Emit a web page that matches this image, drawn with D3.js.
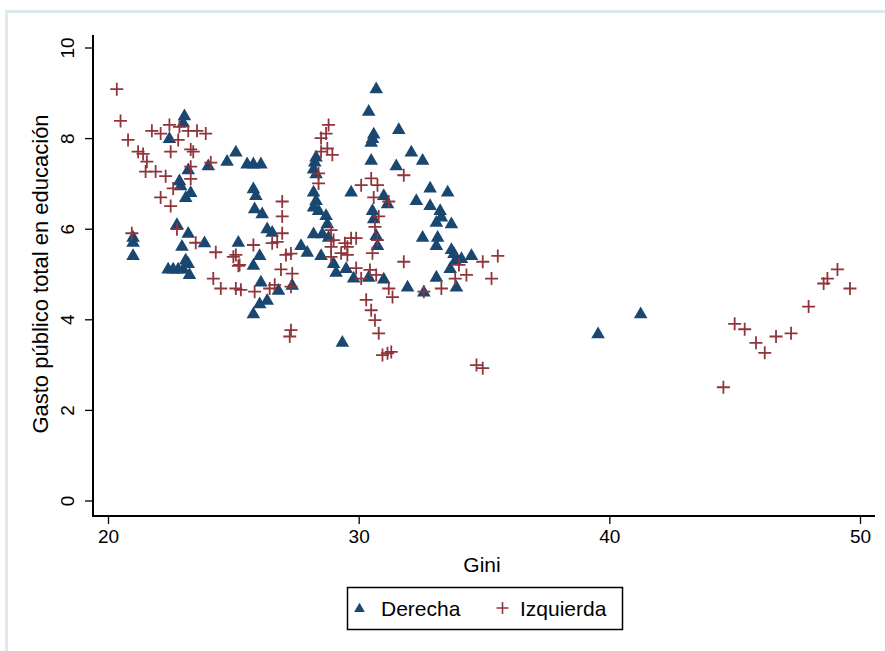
<!DOCTYPE html>
<html>
<head>
<meta charset="utf-8">
<script src="https://cdn.jsdelivr.net/npm/d3@7"></script>
<style>
  body { margin: 0; background: #fff; }
  text { font-family: "Liberation Sans", Arial, sans-serif; fill: #000; }
</style>
</head>
<body>
<div id="chart"></div>
<script>
const xTicks = [20, 30, 40, 50];
const yTicks = [0, 2, 4, 6, 8, 10];

const derechaGini = [23.05, 23.0, 22.45, 23.2, 24.0, 24.75, 25.1, 22.85, 22.9, 23.3, 23.1, 21.0, 21.0, 21.0,
  22.75, 23.2, 23.85, 22.95, 23.1, 22.4, 22.6, 22.8, 23.0, 23.2, 23.25, 25.2, 25.55, 25.8, 26.1, 25.8,
  25.9, 25.85, 26.15, 26.35, 26.55, 27.7, 28.25, 28.2, 28.3, 28.3, 28.2, 28.3, 28.2, 28.4, 28.7, 28.75,
  28.2, 28.55, 28.8, 29.7, 26.05, 25.8, 27.95, 28.5, 26.1, 26.35, 26.05, 25.8, 26.8, 27.35, 29.35, 29.0,
  29.1, 29.5, 29.8, 30.7, 30.4, 30.6, 30.55, 30.5, 31.6, 32.1, 32.55, 30.5, 31.5, 32.85, 33.55, 32.3,
  32.85, 33.25, 33.3, 33.1, 33.7, 31.0, 31.15, 30.55, 30.6, 30.7, 30.75, 32.55, 33.15, 33.1, 33.8, 33.85,
  33.65, 34.5, 34.1, 33.7, 30.4, 31.0, 31.95, 32.6, 33.1, 33.9, 39.55, 41.25];
const derechaGasto = [8.5, 8.35, 8.0, 7.31, 7.4, 7.5, 7.7, 7.07, 6.96, 6.81, 6.7, 5.82, 5.71, 5.42,
  6.1, 5.91, 5.7, 5.62, 5.32, 5.12, 5.12, 5.12, 5.12, 5.24, 5.0, 5.71, 7.44, 7.44, 7.44, 6.89,
  6.74, 6.45, 6.34, 6.01, 5.93, 5.64, 7.48, 7.33, 7.59, 7.22, 6.82, 6.63, 6.49, 6.41, 6.3, 6.12,
  5.9, 5.9, 5.82, 6.82, 5.42, 5.2, 5.49, 5.42, 4.83, 4.43, 4.35, 4.13, 4.65, 4.76, 3.5, 5.24,
  5.05, 5.13, 4.92, 9.1, 8.6, 8.1, 8.0, 7.92, 8.2, 7.7, 7.52, 7.52, 7.4, 6.91, 6.82, 6.63,
  6.52, 6.41, 6.27, 6.15, 6.12, 6.74, 6.56, 6.41, 6.23, 5.86, 5.64, 5.82, 5.82, 5.64, 5.46, 5.31,
  5.13, 5.42, 5.35, 5.55, 4.94, 4.9, 4.72, 4.61, 4.94, 4.72, 3.69, 4.13];

const izquierdaGini = [20.35, 20.5, 20.8, 21.2, 21.4, 21.55, 21.5, 21.9, 22.3, 21.75, 22.1, 22.45, 22.85,
  23.2, 23.55, 23.9, 22.8, 22.5, 23.3, 23.4, 24.1, 23.3, 23.3, 22.6, 22.1, 22.5, 20.95, 22.75, 23.5,
  24.3, 25.0, 25.2, 24.2, 24.5, 25.1, 26.95, 26.95, 26.95, 26.75, 28.5, 28.7, 28.75, 28.95, 28.5, 28.4,
  28.4, 28.8, 25.8, 28.9, 26.55, 25.1, 25.25, 27.1, 27.3, 26.9, 27.35, 25.3, 25.85, 26.45, 26.65, 27.3,
  27.3, 27.25, 28.9, 28.9, 29.3, 29.55, 29.9, 29.0, 31.8, 30.1, 30.5, 30.75, 30.6, 31.2, 30.8, 30.65,
  29.7, 29.9, 29.45, 30.75, 30.55, 29.55, 31.8, 30.45, 30.7, 30.1, 31.2, 31.35, 32.6, 34.0, 34.3, 33.85,
  34.95, 35.55, 35.3, 33.3, 30.3, 30.5, 30.65, 30.8, 30.95, 31.15, 31.3, 34.7, 34.95, 45.0, 45.4, 45.85,
  46.2, 46.65, 47.25, 47.95, 48.55, 48.7, 49.1, 49.6, 44.55];
const izquierdaGasto = [9.08, 8.38, 7.96, 7.7, 7.65, 7.48, 7.26, 7.26, 7.16, 8.16, 8.1, 8.29, 8.25,
  8.16, 8.16, 8.1, 7.96, 7.7, 7.75, 7.7, 7.46, 7.37, 7.1, 6.89, 6.69, 6.5, 5.9, 5.99, 5.69,
  5.48, 5.38, 5.18, 4.9, 4.68, 4.68, 6.6, 6.27, 5.9, 5.71, 8.0, 8.1, 7.77, 7.63, 7.7, 7.22,
  7.0, 8.29, 5.64, 5.97, 5.68, 5.42, 5.2, 5.42, 5.45, 5.1, 5.01, 4.65, 4.61, 4.68, 4.76, 4.72,
  3.76, 3.62, 5.6, 5.38, 5.46, 5.6, 5.13, 5.75, 7.18, 6.96, 7.11, 6.96, 6.69, 6.6, 6.27, 6.04,
  5.79, 5.79, 5.68, 5.75, 5.46, 5.42, 5.27, 5.09, 4.98, 4.9, 4.68, 4.49, 4.61, 5.2, 4.98, 4.9,
  5.27, 5.4, 4.9, 4.68, 4.43, 4.2, 3.98, 3.69, 3.21, 3.25, 3.28, 2.99, 2.92, 3.9, 3.78, 3.48,
  3.26, 3.62, 3.69, 4.28, 4.79, 4.9, 5.1, 4.68, 2.5];

const navy = "#1a476f";
const maroon = "#90353b";
const width = 885, height = 651;
const plotLeft = 93, plotRight = 875, plotTop = 35, plotBottom = 516;

const svg = d3.select("#chart").append("svg")
  .attr("width", width)
  .attr("height", height);

svg.append("rect").attr("width", width).attr("height", height).attr("fill", "#fff");
// outer graph region border
svg.append("rect")
  .attr("x", 6.5).attr("y", 11.5).attr("width", 900).attr("height", 700)
  .attr("fill", "none").attr("stroke", "#dde9ec").attr("stroke-width", 3);

const x = d3.scaleLinear().domain([20, 50]).range([108, 860]);
const y = d3.scaleLinear().domain([0, 10]).range([500.5, 47.5]);

// axes
const xAxis = svg.append("g")
  .attr("transform", `translate(0,${plotBottom})`)
  .call(d3.axisBottom(x).tickValues(xTicks).tickSize(8).tickPadding(6).tickFormat(d3.format("d")));
xAxis.select(".domain").remove();
xAxis.selectAll("line").attr("stroke", "#000").attr("stroke-width", 1.3);
xAxis.selectAll("text").attr("font-size", 19).attr("font-family", "Liberation Sans, Arial, sans-serif");

const yAxis = svg.append("g")
  .attr("transform", `translate(${plotLeft},0)`)
  .call(d3.axisLeft(y).tickValues(yTicks).tickSize(8).tickFormat(d3.format("d")));
yAxis.select(".domain").remove();
yAxis.selectAll("line").attr("stroke", "#000").attr("stroke-width", 1.3);
yAxis.selectAll("text")
  .attr("font-size", 19)
  .attr("font-family", "Liberation Sans, Arial, sans-serif")
  .attr("text-anchor", "middle")
  .attr("x", null).attr("dy", null)
  .attr("transform", "translate(-19,0) rotate(-90)");

svg.append("line").attr("x1", plotLeft).attr("x2", plotLeft).attr("y1", plotTop).attr("y2", plotBottom + 1)
  .attr("stroke", "#000").attr("stroke-width", 2);
svg.append("line").attr("x1", plotLeft - 1).attr("x2", plotRight).attr("y1", plotBottom).attr("y2", plotBottom)
  .attr("stroke", "#000").attr("stroke-width", 2);

// titles
svg.append("text")
  .attr("x", 482).attr("y", 572)
  .attr("text-anchor", "middle")
  .attr("font-size", 21)
  .text("Gini");

svg.append("text")
  .attr("transform", "translate(48,274) rotate(-90)")
  .attr("text-anchor", "middle")
  .attr("font-size", 22)
  .text("Gasto público total en educación");

// markers
const tri = d3.symbol().type(d3.symbolTriangle).size(80);
const plus = "M-6.5,0H6.5M0,-6.5V6.5";

svg.append("g").selectAll("path")
  .data(derechaGini.map((g, i) => [g, derechaGasto[i]]))
  .join("path")
  .attr("d", tri)
  .attr("transform", d => `translate(${x(d[0])},${y(d[1]) + 1})`)
  .attr("fill", navy);

svg.append("g").selectAll("path")
  .data(izquierdaGini.map((g, i) => [g, izquierdaGasto[i]]))
  .join("path")
  .attr("d", plus)
  .attr("transform", d => `translate(${x(d[0])},${y(d[1])})`)
  .attr("stroke", maroon)
  .attr("stroke-width", 1.8)
  .attr("fill", "none");

// legend
const lg = svg.append("g");
lg.append("rect")
  .attr("x", 347.5).attr("y", 587.5).attr("width", 275).attr("height", 42)
  .attr("fill", "#fff").attr("stroke", "#000").attr("stroke-width", 1.5);
lg.append("path").attr("d", d3.symbol().type(d3.symbolTriangle).size(50))
  .attr("transform", "translate(359.5,609)").attr("fill", navy);
lg.append("text").attr("x", 381).attr("y", 616).attr("font-size", 21).text("Derecha");
lg.append("path").attr("d", "M-6,0H6M0,-6V6")
  .attr("transform", "translate(502.5,608)").attr("stroke", maroon).attr("stroke-width", 1.6);
lg.append("text").attr("x", 520).attr("y", 616).attr("font-size", 21).text("Izquierda");
</script>
</body>
</html>
